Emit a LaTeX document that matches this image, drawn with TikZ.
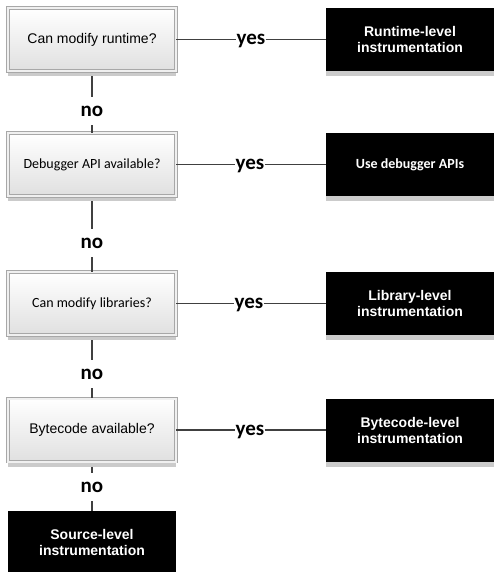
\documentclass[tikz,border=0pt]{standalone}
\usepackage{fontspec}
\setmainfont{Liberation Sans}
\newfontfamily\calibri{Carlito}
\definecolor{linec}{HTML}{404040}
\definecolor{boxb}{HTML}{A8A8A8}
\definecolor{shad}{HTML}{CBCBCB}
\definecolor{qbot}{HTML}{E0E0E0}
\tikzset{
  x=1pt, y=-1pt,
  boxshadow/.style={preaction={fill=shad, transform canvas={yshift=-5pt}}},
  qbox/.style={rectangle, minimum width=168pt, minimum height=63pt, inner sep=0pt,
    top color=white, bottom color=qbot, draw=boxb, line width=0.6pt,
    double=white!94!black, double distance=2pt, boxshadow,
    font=\fontsize{14}{16}\selectfont},
  rbox/.style={rectangle, minimum width=168pt, minimum height=63pt, inner sep=0pt,
    fill=black, text=white, align=center, boxshadow,
    font=\bfseries\fontsize{14}{16}\selectfont},
  lbl/.style={inner sep=0pt, text depth=0pt, font=\calibri\bfseries\fontsize{21}{24}\selectfont},
  nolbl/.style={lbl, minimum height=28pt},
  conn/.style={draw=linec, line width=1.6pt}
}
\begin{document}
\begin{tikzpicture}
\useasboundingbox (0,0) rectangle (494,572);
% question boxes
\node[qbox] (q1) at (92,39.5) {Can modify runtime?};
\node[qbox] (q2) at (92,164.5) {\calibri Debugger API available?};
\node[qbox] (q3) at (92,303.5) {\calibri Can modify libraries?};
\node[qbox] (q4) at (92,430) {Bytecode available?};
% result boxes
\node[rbox] (r1) at (410,39.5) {Runtime-level\\instrumentation};
\node[rbox] (r2) at (410,164.5) {\calibri\bfseries Use debugger APIs};
\node[rbox] (r3) at (410,303.5) {Library-level\\instrumentation};
\node[rbox] (r4) at (410,430) {Bytecode-level\\instrumentation};
\node[rbox] (r5) at (92,542.5) {Source-level\\instrumentation};
% yes labels
\node[lbl] (y1) at (251,39.5) {yes};
\node[lbl] (y2) at (250,164.5) {yes};
\node[lbl] (y3) at (249,303.5) {yes};
\node[lbl] (y4) at (250,430) {yes};
% no labels
\node[nolbl] (n1) at (92,111) {no};
\node[nolbl] (n2) at (92,243) {no};
\node[nolbl] (n3) at (92,374) {no};
\node[nolbl] (n4) at (92,487) {no};
% connectors
\foreach \i in {1,2,3,4}{
  \draw[conn] (q\i.east) -- (y\i.west);
  \draw[conn] (y\i.east) -- (r\i.west);
}
\draw[conn] ([yshift=-5pt]q1.south) -- (n1.north);
\draw[conn] (n1.south) -- (q2.north);
\draw[conn] ([yshift=-5pt]q2.south) -- (n2.north);
\draw[conn] (n2.south) -- (q3.north);
\draw[conn] ([yshift=-5pt]q3.south) -- (n3.north);
\draw[conn] (n3.south) -- (q4.north);
\draw[conn] ([yshift=-5pt]q4.south) -- (n4.north);
\draw[conn] (n4.south) -- (r5.north);
\end{tikzpicture}
\end{document}
